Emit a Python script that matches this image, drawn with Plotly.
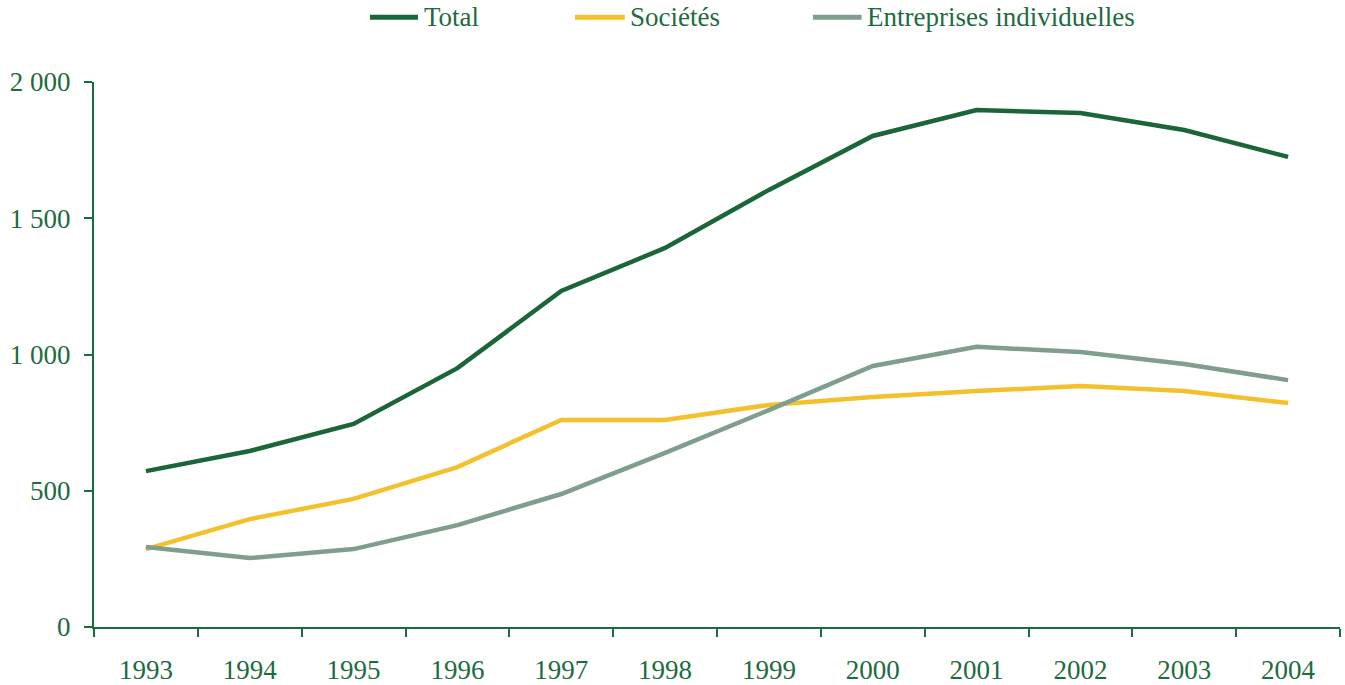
import plotly.graph_objects as go

years = ["1993", "1994", "1995", "1996", "1997", "1998",
         "1999", "2000", "2001", "2002", "2003", "2004"]
total = [572, 646, 745, 950, 1233, 1391, 1604, 1802, 1897, 1886, 1824, 1725]
societes = [286, 396, 470, 587, 760, 760, 815, 844, 866, 884, 866, 822]
entreprises_ind = [294, 253, 286, 374, 488, 639, 796, 958, 1028, 1009, 965, 906]

series_names = ["Total", "Sociétés", "Entreprises individuelles"]
series_colors = ["#1b6638", "#f4c12e", "#7f9e8e"]
y_ticks = [0, 500, 1000, 1500, 2000]
y_tick_text = ["0", "500", "1 000", "1 500", "2 000"]

text_color = "#1d6b40"
font_family = "Liberation Serif, Times New Roman, serif"
font_size = 27

fig = go.Figure()
for name, values, color in zip(series_names, [total, societes, entreprises_ind], series_colors):
    fig.add_trace(go.Scatter(
        x=years, y=values, name=name, mode="lines",
        line=dict(color=color, width=4.5),
        showlegend=False,
    ))

# legend row above the plot, drawn as short line samples with labels
legend_pos = [(0.2215, 0.2600, 0.2630), (0.3860, 0.4260, 0.4285), (0.5770, 0.6160, 0.6190)]
for (x0, x1, xt), name, color in zip(legend_pos, series_names, series_colors):
    fig.add_shape(type="line", xref="paper", yref="paper",
                  x0=x0, x1=x1, y0=1.119, y1=1.119,
                  line=dict(color=color, width=5))
    fig.add_annotation(xref="paper", yref="paper", x=xt, y=1.119,
                       text=name, showarrow=False, xanchor="left", yanchor="middle",
                       font=dict(family=font_family, size=font_size, color=text_color))

fig.update_layout(
    width=1345, height=685,
    margin=dict(l=94, r=5, t=82, b=58),
    paper_bgcolor="white", plot_bgcolor="white",
    font=dict(family=font_family, size=font_size, color=text_color),
    xaxis=dict(
        type="category", tickson="boundaries",
        range=[-0.5, 11.5], automargin=False,
        showline=True, linecolor=text_color, linewidth=2,
        ticks="outside", ticklen=8, tickwidth=2, tickcolor=text_color,
        showgrid=False, zeroline=False,
        ticklabelstandoff=18,
    ),
    yaxis=dict(
        range=[0, 2000], automargin=False,
        tickvals=y_ticks, ticktext=y_tick_text,
        showline=True, linecolor=text_color, linewidth=2,
        ticks="outside", ticklen=8, tickwidth=2, tickcolor=text_color,
        showgrid=False, zeroline=False,
        ticklabelstandoff=8,
    ),
)

fig.write_html("out.html")
